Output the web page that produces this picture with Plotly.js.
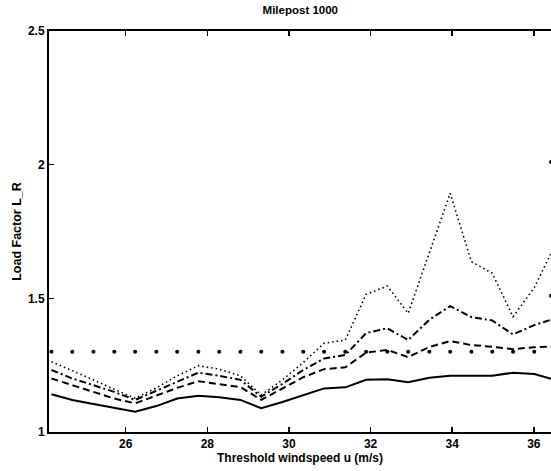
<!DOCTYPE html>
<html>
<head>
<meta charset="utf-8">
<script src="https://cdn.plot.ly/plotly-3.0.1.min.js"></script>
<style>html,body{margin:0;padding:0;background:#fff;overflow:hidden}#chart{width:551px;height:471px}</style>
</head>
<body>
<div id="chart"></div>
<script>
// Threshold windspeed (m/s), one point per knot (47..71 kn)
const windspeed = [24.18,24.69,25.21,25.72,26.23,26.75,27.26,27.78,28.29,28.81,29.32,29.84,30.35,30.86,31.38,31.89,32.41,32.92,33.44,33.95,34.47,34.98,35.49,36.01,36.52];
const solid    = [1.141,1.120,1.105,1.090,1.076,1.097,1.125,1.136,1.130,1.120,1.089,1.112,1.138,1.163,1.167,1.195,1.197,1.186,1.203,1.210,1.210,1.210,1.222,1.217,1.195];
const dashed   = [1.200,1.175,1.150,1.125,1.107,1.135,1.165,1.190,1.180,1.168,1.120,1.163,1.205,1.235,1.242,1.297,1.307,1.280,1.318,1.340,1.325,1.319,1.310,1.317,1.320];
const dashdot  = [1.232,1.200,1.175,1.150,1.120,1.155,1.190,1.222,1.210,1.195,1.132,1.180,1.232,1.275,1.288,1.370,1.388,1.344,1.420,1.471,1.430,1.417,1.365,1.400,1.425];
const dotted   = [1.263,1.230,1.195,1.160,1.126,1.165,1.210,1.248,1.235,1.210,1.138,1.195,1.260,1.332,1.344,1.515,1.546,1.444,1.668,1.893,1.637,1.594,1.431,1.540,1.700];
const reference = [1.3,1.3,1.3,1.3,1.3,1.3,1.3,1.3,1.3,1.3,1.3,1.3,1.3,1.3,1.3,1.3,1.3,1.3,1.3,1.3,1.3,1.3,1.3,1.3,1.3];
// isolated dots at the right edge
const edgeX = [36.42, 36.42];
const edgeY = [1.51, 2.01];

const xTicks = [26, 28, 30, 32, 34, 36];
const yTicks = [1, 1.5, 2, 2.5];

const line = (y, dash, w) => ({
  x: windspeed, y: y, mode: 'lines', type: 'scatter',
  line: {color: '#000', width: w, dash: dash}, hoverinfo: 'skip'
});

const traces = [
  line(solid, 'solid', 2),
  line(dashed, '7px,4px', 2),
  line(dashdot, '7px,3px,2px,3px', 2),
  line(dotted, '1.5px,3px', 1.6),
  {x: windspeed, y: reference, mode: 'markers', type: 'scatter',
   marker: {color: '#000', size: 4}, hoverinfo: 'skip'},
  {x: edgeX, y: edgeY, mode: 'markers', type: 'scatter',
   marker: {color: '#000', size: 4}, hoverinfo: 'skip', cliponaxis: false}
];

const font = {family: 'Liberation Sans, Arial, sans-serif', size: 12, color: '#000', weight: 'bold'};

const layout = {
  width: 551, height: 471,
  margin: {l: 49, r: 0, t: 31, b: 39, pad: 0},
  paper_bgcolor: '#fff', plot_bgcolor: '#fff',
  showlegend: false,
  font: font,
  title: {text: 'Milepost 1000', font: {family: font.family, size: 11.5, color: '#000', weight: 'bold'},
          x: 0.545, xanchor: 'center', y: 0.978, yanchor: 'middle'},
  xaxis: {
    range: [24.12, 36.42], tickvals: xTicks, ticktext: xTicks.map(String),
    ticks: 'inside', ticklen: 5, tickwidth: 1.5, tickcolor: '#000',
    showline: true, linecolor: '#000', linewidth: 2, mirror: 'ticks',
    showgrid: false, zeroline: false,
    tickfont: font,
    title: {text: 'Threshold windspeed u (m/s)', font: font, standoff: 0}
  },
  yaxis: {
    range: [1, 2.5], tickvals: yTicks, ticktext: ['1', '1.5', '2', '2.5'],
    ticks: 'inside', ticklen: 5, tickwidth: 1.5, tickcolor: '#000',
    showline: true, linecolor: '#000', linewidth: 2, mirror: false,
    showgrid: false, zeroline: false,
    tickfont: font,
    title: {text: 'Load Factor L_R', font: {family: font.family, size: 12.5, color: '#000', weight: 'bold'}, standoff: 4}
  }
};

Plotly.newPlot('chart', traces, layout, {staticPlot: true, displayModeBar: false});
</script>
</body>
</html>
